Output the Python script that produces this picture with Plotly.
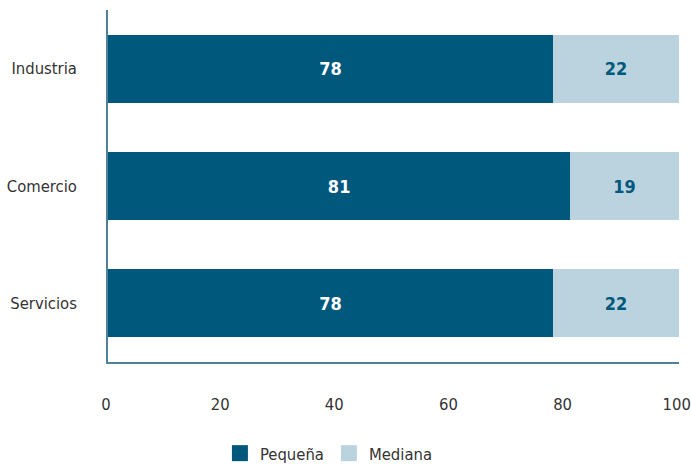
import plotly.graph_objects as go

categorias = ["Industria", "Comercio", "Servicios"]
pequena = [78, 81, 78]
mediana = [22, 19, 22]
ticks_x = [0, 20, 40, 60, 80, 100]

DARK = "#00587C"
LIGHT = "#BAD3DF"
FONT = "DejaVu Sans Condensed, DejaVu Sans, sans-serif"

fig = go.Figure()
fig.add_trace(go.Bar(
    y=categorias, x=pequena, name="Pequeña", orientation="h",
    marker=dict(color=DARK, line=dict(width=0)), showlegend=False,
    text=pequena, textposition="inside", insidetextanchor="middle",
    textfont=dict(color="white", size=18, family=FONT, weight="bold"),
))
fig.add_trace(go.Bar(
    y=categorias, x=mediana, name="Mediana", orientation="h",
    marker=dict(color=LIGHT, line=dict(width=0)), showlegend=False,
    text=mediana, textposition="inside", insidetextanchor="middle",
    textfont=dict(color=DARK, size=18, family=FONT, weight="bold"),
))
for nombre, color in [("Pequeña", DARK), ("Mediana", LIGHT)]:
    fig.add_trace(go.Scatter(
        x=[None], y=[None], mode="markers", name=nombre,
        marker=dict(symbol="square", size=17, color=color, line=dict(width=0)),
    ))

fig.update_layout(
    width=691, height=464,
    barmode="stack", bargap=0.42,
    margin=dict(l=108, r=12, t=10, b=102, autoexpand=False),
    plot_bgcolor="white", paper_bgcolor="white",
    font=dict(family=FONT, size=16.5, color="#333333"),
    legend=dict(orientation="h", x=0.196, xanchor="left", y=-0.21, yanchor="top",
                font=dict(size=16.5, color="#333333"), itemwidth=30,
                traceorder="normal", tracegroupgap=0),
    uniformtext=dict(mode="show", minsize=10),
)
fig.update_xaxes(
    range=[0, 100.05], tickvals=ticks_x, showgrid=False, zeroline=False,
    showline=True, linecolor="#4F8199", linewidth=1.5, automargin=False,
    ticks="", ticklabelstandoff=26, ticklabeloverflow="allow", fixedrange=True,
    ticklabelshift=-2,
)
fig.update_yaxes(
    categoryorder="array", categoryarray=categorias[::-1],
    showgrid=False, zeroline=False, automargin=False,
    showline=True, linecolor="#4F8199", linewidth=1.5,
    ticks="", ticklabelstandoff=26,
)

fig.write_html(
    "out.html",
    config={"displayModeBar": False},
    post_script="document.body.style.margin='0';document.body.style.overflow='hidden';",
)
